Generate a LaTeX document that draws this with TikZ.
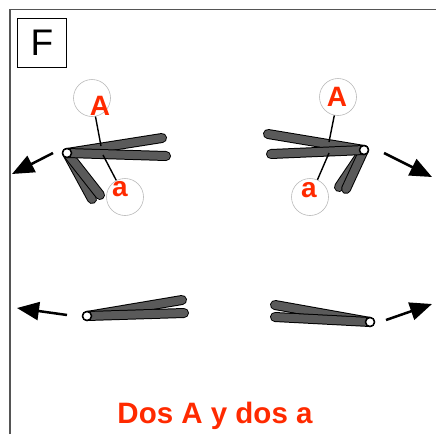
\documentclass[tikz,border=0pt]{standalone}
\usepackage{fontspec}
\setmainfont{Liberation Sans}
\usetikzlibrary{arrows.meta}

\definecolor{allelered}{HTML}{FF2A00}
\definecolor{rodgray}{HTML}{5A5A5A}
\definecolor{framegray}{HTML}{555555}

\tikzset{
  rodedge/.style={line width=10pt, line cap=round, black},
  rodbody/.style={line width=8pt, line cap=round, rodgray},
  pivot/.style={circle, draw, fill=white, inner sep=0pt, minimum size=9pt, line width=1.5pt},
  ring/.style={circle, draw=gray!55, line width=0.6pt, minimum size=37pt, inner sep=0pt},
  allele/.style={text=allelered, inner sep=0pt, font=\fontsize{28}{28}\selectfont\bfseries},
  pointer/.style={line width=1.4pt},
  moves/.style={line width=2.5pt, -{Triangle[length=22pt,width=18pt]}},
}
% one chromatid: outline first, grey body on top
\newcommand{\chromatid}[2]{\draw[rodedge] (#1) -- (#2); \draw[rodbody] (#1) -- (#2);}

\begin{document}
\begin{tikzpicture}[x=1pt,y=-1pt]
  \useasboundingbox (0,0) rectangle (436,434);

  % frame and panel letter
  \draw[framegray, line width=1.5pt] (10,434) -- (10,9.5) -- (436,9.5);
  \node[draw, line width=1.5pt, minimum size=49pt, inner sep=0pt,
        font=\fontsize{37}{37}\selectfont] (panel) at (42,43) {F};

  % upper left pair
  \coordinate (pUL) at (67,153);
  \coordinate (uL1) at (162,138);
  \coordinate (uL2) at (166,156);
  \coordinate (uL3) at (92,199);
  \coordinate (uL4) at (100,195);
  \chromatid{pUL}{uL3}
  \chromatid{pUL}{uL4}
  \chromatid{pUL}{uL1}
  \chromatid{pUL}{uL2}
  \node[pivot] (hUL) at (pUL) {};

  \node[ring] (rA1) at (92,98) {};
  \node[allele] (tA1) at (100,106) {A};
  \node[ring] (ra1) at (125,197) {};
  \node[allele] (ta1) at (120,189) {a};
  \coordinate (hitA1) at (101,146);
  \coordinate (hita1) at (103,155);
  \draw[pointer] (rA1) -- (hitA1);
  \draw[pointer] (ra1) -- (hita1);

  % upper right pair
  \coordinate (pUR) at (364,150);
  \coordinate (uR1) at (268,134);
  \coordinate (uR2) at (271,154);
  \coordinate (uR3) at (339,187);
  \coordinate (uR4) at (346,189);
  \chromatid{pUR}{uR3}
  \chromatid{pUR}{uR4}
  \chromatid{pUR}{uR1}
  \chromatid{pUR}{uR2}
  \node[pivot] (hUR) at (pUR) {};

  \node[ring] (rA2) at (338,97) {};
  \node[allele] (tA2) at (337,97) {A};
  \node[ring] (ra2) at (310,197) {};
  \node[allele] (ta2) at (309,190) {a};
  \coordinate (hitA2) at (329,142);
  \coordinate (hita2) at (329,153);
  \draw[pointer] (rA2) -- (hitA2);
  \draw[pointer] (ra2) -- (hita2);

  % lower pairs
  \coordinate (pLL) at (87,316);
  \coordinate (lL1) at (182,300);
  \coordinate (lL2) at (184,313);
  \chromatid{pLL}{lL1}
  \chromatid{pLL}{lL2}
  \node[pivot] (hLL) at (pLL) {};

  \coordinate (pLR) at (370,322);
  \coordinate (lR1) at (275,305);
  \coordinate (lR2) at (275,317);
  \chromatid{pLR}{lR1}
  \chromatid{pLR}{lR2}
  \node[pivot] (hLR) at (pLR) {};

  % directions of movement
  \coordinate (sUL) at (53,153);  \coordinate (eUL) at (12,174);
  \coordinate (sUR) at (384,153); \coordinate (eUR) at (432,177);
  \coordinate (sLL) at (67,315);  \coordinate (eLL) at (17,308);
  \coordinate (sLR) at (386,320); \coordinate (eLR) at (432,304);
  \draw[moves] (sUL) -- (eUL);
  \draw[moves] (sUR) -- (eUR);
  \draw[moves] (sLL) -- (eLL);
  \draw[moves] (sLR) -- (eLR);

  \node[anchor=base, text=allelered, font=\fontsize{29.5}{30}\selectfont\bfseries]
    (caption) at (215,423) {Dos A y dos a};
\end{tikzpicture}
\end{document}
